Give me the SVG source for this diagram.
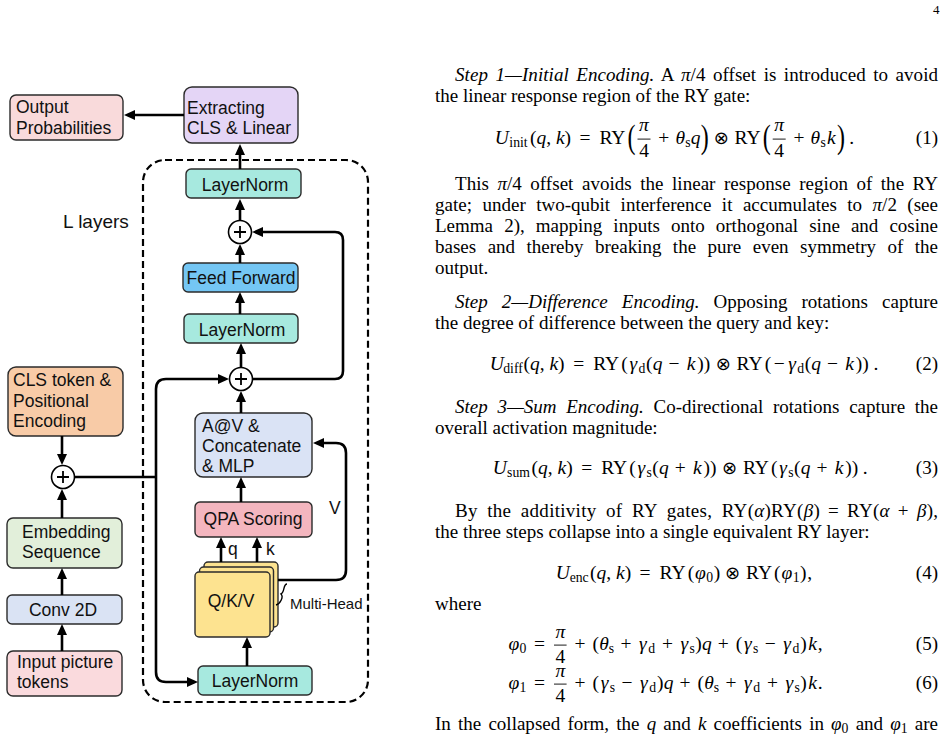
<svg xmlns="http://www.w3.org/2000/svg" width="943" height="736" viewBox="0 0 943 736">
<defs>
<style>
.bx{stroke:#2b2b2b;stroke-width:1.4}
.lbl{font-family:"Liberation Sans",Arial,sans-serif;font-size:17.5px;fill:#111}
.c{text-anchor:middle}
.cn{fill:none;stroke:#000;stroke-width:2.6;marker-end:url(#ah)}
.ln{fill:none;stroke:#000;stroke-width:2.6}
.add circle{fill:#fff;stroke:#000;stroke-width:1.6}
.add path{stroke:#000;stroke-width:1.8;fill:none}
.t{font-family:"Liberation Serif","DejaVu Serif",serif;font-size:19px;fill:#000}
.m{font-family:"Liberation Serif","DejaVu Serif","DejaVu Sans",serif;font-size:19.5px;text-anchor:middle;fill:#000}
.i{font-style:italic}
.sb{font-size:13.7px}
.ot{font-family:"DejaVu Sans",sans-serif;font-size:18px}
.bar{stroke:#000;stroke-width:0.9}
.bp{font-family:"Liberation Serif",serif;font-size:34px}
.en{font-family:"Liberation Serif",serif;font-size:19px;text-anchor:end}
</style>
<marker id="ah" viewBox="0 0 11 10" refX="2" refY="5" markerWidth="11" markerHeight="10" markerUnits="userSpaceOnUse" orient="auto"><path d="M0,0 L11,5 L0,10 z" fill="#000"/></marker>
</defs>
<rect width="943" height="736" fill="#fff"/>

<!-- Diagram -->
<g id="frame"><rect x="143" y="160" width="225" height="542" rx="22" fill="none" stroke="#000" stroke-width="2.2" stroke-dasharray="7 4"/></g>
<g id="l-layers"><text class="lbl" x="63" y="228" style="font-size:19px">L layers</text></g>

<g id="output"><rect class="bx" x="10" y="95" width="113" height="45" rx="6" fill="#f9dadb"/><text class="lbl" x="16" y="113">Output</text><text class="lbl" x="16" y="134">Probabilities</text></g>
<g id="extract"><rect class="bx" x="184" y="87" width="114" height="56" rx="8" fill="#e4d5f6"/><text class="lbl" x="187" y="114">Extracting</text><text class="lbl" x="187" y="134">CLS &amp; Linear</text></g>
<g id="ln-top"><rect class="bx" x="186" y="169" width="115" height="29" rx="5" fill="#a7e9df"/><text class="lbl c" x="245" y="191">LayerNorm</text></g>
<g id="add-top" class="add"><circle cx="240" cy="232" r="11.5"/><path d="M234,232 h12 M240,226 v12"/></g>
<g id="ff"><rect class="bx" x="183" y="263" width="115" height="29" rx="5" fill="#74c6f4"/><text class="lbl c" x="241" y="284">Feed Forward</text></g>
<g id="ln-mid"><rect class="bx" x="184" y="314" width="114" height="29" rx="5" fill="#a7e9df"/><text class="lbl c" x="242" y="336">LayerNorm</text></g>
<g id="add-mid" class="add"><circle cx="241" cy="379" r="11.5"/><path d="M235,379 h12 M241,373 v12"/></g>
<g id="attn"><rect class="bx" x="195" y="413" width="117" height="64" rx="8" fill="#dae3f5"/><text class="lbl" x="202" y="432">A@V &amp;</text><text class="lbl" x="202" y="452">Concatenate</text><text class="lbl" x="202" y="472">&amp; MLP</text></g>
<g id="qpa"><rect class="bx" x="195" y="502" width="117" height="35" rx="5" fill="#f4b6bf"/><text class="lbl c" x="253" y="525">QPA Scoring</text></g>
<g id="qkv"><rect class="bx" x="204" y="562" width="74" height="65" rx="4" fill="#fde390"/><rect class="bx" x="199.5" y="567" width="74" height="65" rx="4" fill="#fde390"/><rect class="bx" x="195" y="572" width="75" height="65" rx="4" fill="#fde390"/><text class="lbl c" x="231" y="607">Q/K/V</text>
<path d="M287,584 C283,584 285,592 281,594 C284,597 280,604 276,605" fill="none" stroke="#000" stroke-width="1.4"/>
<text class="lbl" x="290" y="609" style="font-size:15px">Multi-Head</text></g>
<g id="ln-bot"><rect class="bx" x="198" y="666" width="114" height="29" rx="5" fill="#a7e9df"/><text class="lbl c" x="255" y="687">LayerNorm</text></g>
<g id="cls"><rect class="bx" x="8" y="367" width="115" height="69" rx="8" fill="#f8cba7"/><text class="lbl" x="13" y="386">CLS token &amp;</text><text class="lbl" x="13" y="407">Positional</text><text class="lbl" x="13" y="427">Encoding</text></g>
<g id="add-in" class="add"><circle cx="63" cy="477" r="11.5"/><path d="M57,477 h12 M63,471 v12"/></g>
<g id="emb"><rect class="bx" x="7" y="518" width="115" height="50" rx="6" fill="#e2efda"/><text class="lbl" x="22" y="538">Embedding</text><text class="lbl" x="22" y="558">Sequence</text></g>
<g id="conv"><rect class="bx" x="7" y="595" width="115" height="29" rx="5" fill="#dae3f4"/><text class="lbl c" x="63" y="616">Conv 2D</text></g>
<g id="input"><rect class="bx" x="7" y="651" width="115" height="45" rx="6" fill="#fadadd"/><text class="lbl" x="17" y="668">Input picture</text><text class="lbl" x="17" y="688">tokens</text></g>
<g id="labels"><text class="lbl" x="329" y="514">V</text><text class="lbl" x="228" y="555">q</text><text class="lbl" x="266" y="555">k</text></g>

<g id="connectors">
<path class="cn" d="M184,115 L133,115"/>
<path class="cn" d="M240,169 L240,153"/>
<path class="cn" d="M240,220 L240,208"/>
<path class="cn" d="M240,263 L240,253"/>
<path class="cn" d="M253,379 L335,379 Q343,379 343,371 L343,240 Q343,232 335,232 L261,232"/>
<path class="cn" d="M240,314 L240,301"/>
<path class="cn" d="M241,367 L241,352"/>
<path class="cn" d="M241,413 L241,400"/>
<path class="ln" d="M75,477 L156,477"/>
<path class="cn" d="M156,477 L156,389 Q156,379 166,379 L220,379"/>
<path class="cn" d="M156,477 L156,672 Q156,682 166,682 L189,682"/>
<path class="cn" d="M241,502 L241,486"/>
<path class="cn" d="M278,580 L336,580 Q346,580 346,570 L346,453 Q346,443 336,443 L322,443"/>
<path class="cn" d="M221,562 L221,546"/>
<path class="cn" d="M257,562 L257,546"/>
<path class="cn" d="M247,666 L247,646"/>
<path class="cn" d="M62,436 L62,456"/>
<path class="cn" d="M62,518 L62,498"/>
<path class="cn" d="M62,595 L62,577"/>
<path class="cn" d="M62,651 L62,633"/>
</g>

<!-- Page text -->
<g id="page-text">
<text x="933" y="14" style="font-family:'Liberation Serif',serif;font-size:13px">4</text>
<text class="t" x="455" y="81" style="word-spacing:2.6px" textLength="483" lengthAdjust="spacing"><tspan class="i">Step 1—Initial Encoding.</tspan> A <tspan class="i">π</tspan>/4 offset is introduced to avoid</text>
<text class="t" x="435" y="102">the linear response region of the RY gate:</text>
<text class="t" x="455" y="190" style="word-spacing:3.7px" textLength="483" lengthAdjust="spacing">This <tspan class="i">π</tspan>/4 offset avoids the linear response region of the RY</text>
<text class="t" x="435" y="211" style="word-spacing:5.7px" textLength="503" lengthAdjust="spacing">gate; under two-qubit interference it accumulates to <tspan class="i">π</tspan>/2 (see</text>
<text class="t" x="435" y="232" style="word-spacing:6.3px" textLength="503" lengthAdjust="spacing">Lemma 2), mapping inputs onto orthogonal sine and cosine</text>
<text class="t" x="435" y="253" style="word-spacing:6.7px" textLength="503" lengthAdjust="spacing">bases and thereby breaking the pure even symmetry of the</text>
<text class="t" x="435" y="274">output.</text>
<text class="t" x="455" y="308" style="word-spacing:9.2px" textLength="483" lengthAdjust="spacing"><tspan class="i">Step 2—Difference Encoding.</tspan> Opposing rotations capture</text>
<text class="t" x="435" y="329">the degree of difference between the query and key:</text>
<text class="t" x="455" y="413" style="word-spacing:4.9px" textLength="483" lengthAdjust="spacing"><tspan class="i">Step 3—Sum Encoding.</tspan> Co-directional rotations capture the</text>
<text class="t" x="435" y="434">overall activation magnitude:</text>
<text class="t" x="455" y="517" style="word-spacing:4.5px" textLength="483" lengthAdjust="spacing">By the additivity of RY gates, <tspan style="word-spacing:3px">RY(<tspan class="i">α</tspan>)RY(<tspan class="i">β</tspan>) = RY(<tspan class="i">α</tspan> + <tspan class="i">β</tspan>),</tspan></text>
<text class="t" x="435" y="538">the three steps collapse into a single equivalent RY layer:</text>
<text class="t" x="435" y="610">where</text>
<text class="t" x="435" y="730" style="word-spacing:2.4px" textLength="503" lengthAdjust="spacing">In the collapsed form, the <tspan class="i">q</tspan> and <tspan class="i">k</tspan> coefficients in <tspan class="i">φ</tspan><tspan class="sb" dy="3">0</tspan><tspan dy="-3"> and </tspan><tspan class="i">φ</tspan><tspan class="sb" dy="3">1</tspan><tspan dy="-3"> are</tspan></text>
</g>

<g id="eq1">
<text class="m" y="144"><tspan x="501.7" class="i">U</tspan><tspan x="518.5" y="147" class="sb">init</tspan><tspan x="550.5" y="144">(<tspan class="i">q</tspan>, <tspan class="i">k</tspan>)</tspan><tspan x="584.9">=</tspan><tspan x="612.4">RY</tspan><tspan x="644" y="131.3" class="i">π</tspan><tspan x="644" y="157">4</tspan><tspan x="663.7" y="144">+</tspan><tspan x="680.2" class="i">θ</tspan><tspan x="687.9" y="147" class="sb">s</tspan><tspan x="695.6" y="144" class="i">q</tspan><tspan x="721.2" class="ot">⊗</tspan><tspan x="747.6">RY</tspan><tspan x="779.2" y="131.3" class="i">π</tspan><tspan x="779.2" y="157">4</tspan><tspan x="798.9" y="144">+</tspan><tspan x="815.4" class="i">θ</tspan><tspan x="823.1" y="147" class="sb">s</tspan><tspan x="831.4" y="144" class="i">k</tspan><tspan x="851.7">.</tspan></text>
<line class="bar" x1="637.5" y1="139.1" x2="650.5" y2="139.1"/><line class="bar" x1="772.7" y1="139.1" x2="785.7" y2="139.1"/>
<text class="bp" x="627.5" y="147.6" textLength="8" lengthAdjust="spacingAndGlyphs">(</text><text class="bp" x="700.8" y="147.6" textLength="8" lengthAdjust="spacingAndGlyphs">)</text>
<text class="bp" x="762.7" y="147.6" textLength="8" lengthAdjust="spacingAndGlyphs">(</text><text class="bp" x="837.1" y="147.6" textLength="8" lengthAdjust="spacingAndGlyphs">)</text>
<text class="en" x="938" y="144">(1)</text>
</g>

<g id="eq2">
<text class="m" y="370"><tspan x="496.7" class="i">U</tspan><tspan x="513" y="373" class="sb">diff</tspan><tspan x="544" y="370">(<tspan class="i">q</tspan>, <tspan class="i">k</tspan>)</tspan><tspan x="578.7">=</tspan><tspan x="606.2">RY</tspan><tspan x="624.5">(</tspan><tspan x="633.4" class="i">γ</tspan><tspan x="642" y="373" class="sb">d</tspan><tspan x="649.3" y="370">(</tspan><tspan x="657.6" class="i">q</tspan><tspan x="674">−</tspan><tspan x="691" class="i">k</tspan><tspan x="703.7">))</tspan><tspan x="723.2" class="ot">⊗</tspan><tspan x="749.6">RY</tspan><tspan x="767.9">(</tspan><tspan x="779.3">−</tspan><tspan x="792" class="i">γ</tspan><tspan x="800.6" y="373" class="sb">d</tspan><tspan x="807.9" y="370">(</tspan><tspan x="816.2" class="i">q</tspan><tspan x="832.6">−</tspan><tspan x="849.6" class="i">k</tspan><tspan x="862.3">))</tspan><tspan x="875.9">.</tspan></text>
<text class="en" x="938" y="370">(2)</text>
</g>

<g id="eq3">
<text class="m" y="474"><tspan x="499.7" class="i">U</tspan><tspan x="518.5" y="477" class="sb">sum</tspan><tspan x="552.2" y="474">(<tspan class="i">q</tspan>, <tspan class="i">k</tspan>)</tspan><tspan x="586.7">=</tspan><tspan x="614.2">RY</tspan><tspan x="632.5">(</tspan><tspan x="641.4" class="i">γ</tspan><tspan x="649.1" y="477" class="sb">s</tspan><tspan x="655.6" y="474">(</tspan><tspan x="663.9" class="i">q</tspan><tspan x="680.3">+</tspan><tspan x="697.3" class="i">k</tspan><tspan x="710">))</tspan><tspan x="729.5" class="ot">⊗</tspan><tspan x="755.9">RY</tspan><tspan x="774.2">(</tspan><tspan x="783.1" class="i">γ</tspan><tspan x="790.8" y="477" class="sb">s</tspan><tspan x="797.3" y="474">(</tspan><tspan x="805.6" class="i">q</tspan><tspan x="822">+</tspan><tspan x="839" class="i">k</tspan><tspan x="851.7">))</tspan><tspan x="865.3">.</tspan></text>
<text class="en" x="938" y="474">(3)</text>
</g>

<g id="eq4">
<text class="m" y="579"><tspan x="562.7" class="i">U</tspan><tspan x="579.2" y="582" class="sb">enc</tspan><tspan x="610.6" y="579">(<tspan class="i">q</tspan>, <tspan class="i">k</tspan>)</tspan><tspan x="645.1">=</tspan><tspan x="672.6">RY</tspan><tspan x="690.9">(</tspan><tspan x="700.5" class="i">φ</tspan><tspan x="709.7" y="582" class="sb">0</tspan><tspan x="716.9" y="579">)</tspan><tspan x="732.6" class="ot">⊗</tspan><tspan x="759">RY</tspan><tspan x="777.3">(</tspan><tspan x="786.9" class="i">φ</tspan><tspan x="796.1" y="582" class="sb">1</tspan><tspan x="803.3" y="579">)</tspan><tspan x="809.8">,</tspan></text>
<text class="en" x="938" y="579">(4)</text>
</g>

<g id="eq5">
<text class="m" y="650"><tspan x="513.8" class="i">φ</tspan><tspan x="523" y="653" class="sb">0</tspan><tspan x="539.4" y="650">=</tspan><tspan x="560.3" y="637.5" class="i">π</tspan><tspan x="560.3" y="662.5">4</tspan><tspan x="580" y="650">+</tspan><tspan x="595.7">(</tspan><tspan x="604" class="i">θ</tspan><tspan x="611.3" y="653" class="sb">s</tspan><tspan x="625.9" y="650">+</tspan><tspan x="642.9" class="i">γ</tspan><tspan x="651.7" y="653" class="sb">d</tspan><tspan x="667.4" y="650">+</tspan><tspan x="684.4" class="i">γ</tspan><tspan x="692.1" y="653" class="sb">s</tspan><tspan x="698.6" y="650">)</tspan><tspan x="706.9" class="i">q</tspan><tspan x="723.3">+</tspan><tspan x="739">(</tspan><tspan x="747.9" class="i">γ</tspan><tspan x="755.6" y="653" class="sb">s</tspan><tspan x="770.2" y="650">−</tspan><tspan x="787.2" class="i">γ</tspan><tspan x="796" y="653" class="sb">d</tspan><tspan x="803.6" y="650">)</tspan><tspan x="812.5" class="i">k</tspan><tspan x="820.3">,</tspan></text>
<line class="bar" x1="554" y1="645.1" x2="566.6" y2="645.1"/>
<text class="en" x="938" y="650">(5)</text>
</g>

<g id="eq6">
<text class="m" y="689"><tspan x="513.8" class="i">φ</tspan><tspan x="523" y="692" class="sb">1</tspan><tspan x="539.4" y="689">=</tspan><tspan x="560.3" y="676.8" class="i">π</tspan><tspan x="560.3" y="701.8">4</tspan><tspan x="580" y="689">+</tspan><tspan x="595.7">(</tspan><tspan x="604.6" class="i">γ</tspan><tspan x="612.3" y="692" class="sb">s</tspan><tspan x="626.9" y="689">−</tspan><tspan x="643.9" class="i">γ</tspan><tspan x="652.7" y="692" class="sb">d</tspan><tspan x="660.3" y="689">)</tspan><tspan x="668.6" class="i">q</tspan><tspan x="685">+</tspan><tspan x="700.7">(</tspan><tspan x="709.1" class="i">θ</tspan><tspan x="716.3" y="692" class="sb">s</tspan><tspan x="730.9" y="689">+</tspan><tspan x="747.9" class="i">γ</tspan><tspan x="756.7" y="692" class="sb">d</tspan><tspan x="772.4" y="689">+</tspan><tspan x="789.4" class="i">γ</tspan><tspan x="797.1" y="692" class="sb">s</tspan><tspan x="803.6" y="689">)</tspan><tspan x="812.5" class="i">k</tspan><tspan x="820.3">.</tspan></text>
<line class="bar" x1="554" y1="684.1" x2="566.6" y2="684.1"/>
<text class="en" x="938" y="689">(6)</text>
</g>
</svg>
